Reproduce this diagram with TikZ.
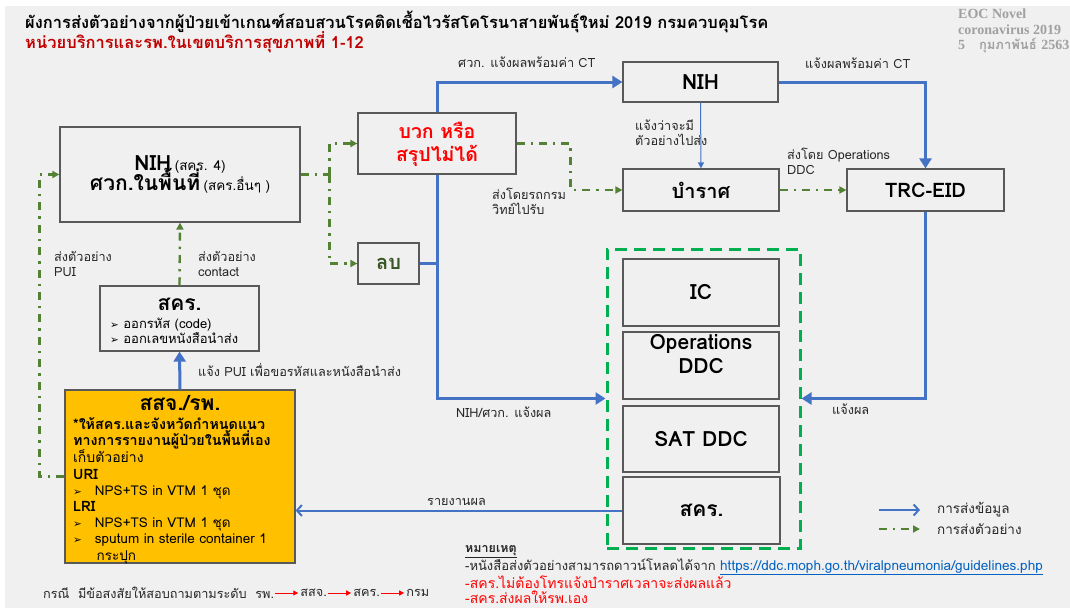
\documentclass[tikz,border=0pt]{standalone}
\usepackage{fontspec}
\setmainfont{Loma}[Script=Thai]
\newfontfamily\dv{DejaVu Sans}
\newfontfamily\lser{Liberation Serif}[BoldFont={Liberation Serif Bold}]
\newfontfamily\loma[Script=Thai]{Loma}
\usetikzlibrary{arrows.meta}
\definecolor{bgc}{HTML}{F0F0F0}
\definecolor{boxc}{HTML}{595959}
\definecolor{bluec}{HTML}{4472C4}
\definecolor{greenc}{HTML}{548235}
\definecolor{grpc}{HTML}{00B050}
\definecolor{yelc}{HTML}{FFC000}
\definecolor{redc}{HTML}{FF0000}
\definecolor{dredc}{HTML}{C00000}
\definecolor{txtc}{HTML}{262626}
\definecolor{grayt}{HTML}{A0A0A0}
\definecolor{linkc}{HTML}{0563C1}
\definecolor{negc}{HTML}{375623}
\newcommand{\fs}[1]{\fontsize{#1}{#1}\selectfont}
\newcommand{\bul}{{\dv\fontsize{10.5}{10.5}\selectfont ➢}}
\begin{document}
\begin{tikzpicture}[x=1pt,y=-1pt,
  box/.style={draw=boxc,line width=1.2pt,inner sep=0pt},
  head/.style={font=\bfseries\fontsize{20}{23}\selectfont,text=black,align=center},
  data/.style={draw=bluec,line width=3pt,-{Triangle[length=10pt,width=12pt]}},
  spec/.style={draw=greenc,line width=2.4pt,dash pattern=on 8pt off 6pt on 2.4pt off 6pt,-{Triangle[length=7pt,width=7pt]}},
  specline/.style={draw=greenc,line width=2.4pt,dash pattern=on 8pt off 6pt on 2.4pt off 6pt},
  lbl/.style={font=\fontsize{12.7}{15.5}\selectfont,text=txtc,align=left,inner sep=0pt},
  redarr/.style={draw=redc,line width=1pt,-{Triangle[length=5pt,width=5pt]}}
]
\useasboundingbox (0,0) rectangle (1070,608);
\fill[white] (0,0) rectangle (1070,608);
\fill[bgc] (5,6) rectangle (1070,608);

% titles
\node[anchor=west,inner sep=0pt,font=\bfseries\fs{16.5}] (t1) at (25,22) {ผังการส่งตัวอย่างจากผู้ป่วยเข้าเกณฑ์สอบสวนโรคติดเชื้อไวรัสโคโรนาสายพันธุ์ใหม่ 2019 กรมควบคุมโรค};
\node[anchor=west,inner sep=0pt,font=\bfseries\fs{16.5},text=dredc] (t2) at (25,42) {หน่วยบริการและรพ.ในเขตบริการสุขภาพที่ 1-12};
\node[anchor=north west,inner sep=0pt,align=left,text=grayt,font=\bfseries\fontsize{14}{15.5}\selectfont] (eoc) at (958,9) {{\lser\bfseries EOC Novel}\\{\lser\bfseries coronavirus 2019}\\{\lser\bfseries 5}\ \ {\loma\bfseries\fs{13} กุมภาพันธ์} {\lser\bfseries 2563}};

% boxes
\node[box,minimum width=240pt,minimum height=95pt] (nihL) at (180,174.5) {};
\node[anchor=base,inner sep=0pt] at (180,170) {{\bfseries\fs{21}NIH}\ {\fs{13.5}(สคร. 4)}};
\node[anchor=base,inner sep=0pt] at (180,190) {{\bfseries\fs{21}ศวก.ในพื้นที่}\ {\fs{13.5}(สคร.อื่นๆ )}};
\node[box,minimum width=158pt,minimum height=61pt] (pos) at (437,143.5) {};
\node[head,text=redc,font=\bfseries\fontsize{19.5}{23}\selectfont] at (437,144) {บวก หรือ\\สรุปไม่ได้};
\node[box,minimum width=61pt,minimum height=41pt,head,text=negc] (neg) at (388.5,263.5) {ลบ};
\node[box,minimum width=155pt,minimum height=40pt,head,font=\bfseries\fs{21}] (nih) at (700.5,82) {NIH};
\node[box,minimum width=156pt,minimum height=42pt,head] (bam) at (701,190) {บำราศ};
\node[box,minimum width=157pt,minimum height=42pt,head] (trc) at (925.5,190) {TRC-EID};
\node[box,minimum width=159pt,minimum height=65pt] (skr) at (179.5,318.5) {};
\node[head,font=\bfseries\fs{21}] at (179.5,304) {สคร.};
\node[anchor=west,align=left,inner sep=0pt,font=\fontsize{13}{15}\selectfont] at (110,331) {\bul\ ออกรหัส (code)\\\bul\ ออกเลขหนังสือนำส่ง};
\node[box,fill=yelc,minimum width=230pt,minimum height=173pt] (ssj) at (180,476.5) {};
\node[head,font=\bfseries\fs{21}] at (180,403) {สสจ./รพ.};
\node[anchor=north west,align=left,inner sep=0pt,font=\fontsize{13.5}{16.2}\selectfont] at (73,417) {{\bfseries\fs{14.3}*ให้สคร.และจังหวัดกำหนดแนว}\\
{\bfseries\fs{14.3}ทางการรายงานผู้ป่วยในพื้นที่เอง}\\
{\fs{14}เก็บตัวอย่าง}\\
{\bfseries\fs{14.3}URI}\\
\bul\hspace{13pt}NPS+TS in VTM 1 ชุด\\
{\bfseries\fs{14.3}LRI}\\
\bul\hspace{13pt}NPS+TS in VTM 1 ชุด\\
\bul\hspace{13pt}sputum in sterile container 1\\
\hspace{23.5pt}กระปุก};

% group
\node[draw=grpc,line width=3pt,dash pattern=on 12pt off 7pt,minimum width=193pt,minimum height=299pt,inner sep=0pt] (grp) at (703.5,398.5) {};
\node[box,minimum width=156pt,minimum height=67pt,head,font=\bfseries\fs{21}] (ic) at (701,292.5) {IC};
\node[box,minimum width=156pt,minimum height=67pt] (ops) at (701,365.5) {};
\node[head,font=\bfseries\fontsize{21}{24}\selectfont] at (701,354) {Operations\\DDC};
\node[box,minimum width=156pt,minimum height=66pt,head,font=\bfseries\fs{21}] (sat) at (701,439) {SAT DDC};
\node[box,minimum width=157pt,minimum height=67pt,head,font=\bfseries\fs{21}] (skr2) at (701.5,510.5) {สคร.};

% blue connectors
\draw[data] (pos.north) |- (nih.west);
\draw[data] (nih.east) -| (trc.north);
\draw[draw=bluec,line width=1pt,-{Triangle[length=6pt,width=6pt]}] (nih.south) -- (bam.north);
\draw[data] (trc.south) |- (grp.east);
\draw[data] (pos.south) |- (grp.west);
\draw[draw=bluec,line width=3pt] (neg.east) -- (neg.east -| pos.south);
\draw[data] (ssj.north) -- (skr.south);
\draw[draw=bluec,line width=2pt,-{Straight Barb[length=5pt,width=11pt]}] (skr2.west) -- (skr2.west -| ssj.east);

% green connectors
\draw[spec] (ssj.west) -- ++(-25,0) |- (nihL.west);
\draw[spec] (skr.north) -- (nihL.south);
\draw[specline] (nihL.east) -- ++(29,0) coordinate (j1);
\draw[spec] (j1) |- (pos.west);
\draw[spec] (j1) |- (neg.west);
\draw[spec] (pos.east) -- ++(54,0) |- (bam.west);
\draw[spec] (bam.east) -- (trc.west);

% labels
\node[lbl,anchor=west] at (458,62) {ศวก. แจ้งผลพร้อมค่า CT};
\node[lbl,anchor=west] at (805,63) {แจ้งผลพร้อมค่า CT};
\node[lbl,anchor=west] at (635,132.5) {แจ้งว่าจะมี\\ตัวอย่างไปส่ง};
\node[lbl,anchor=west] at (787,161.5) {ส่งโดย Operations\\DDC};
\node[lbl,anchor=west] at (492,201.5) {ส่งโดยรถกรม\\วิทย์ไปรับ};
\node[lbl,anchor=west] at (54,264) {ส่งตัวอย่าง\\PUI};
\node[lbl,anchor=west] at (198,264) {ส่งตัวอย่าง\\contact};
\node[lbl,anchor=west] at (198,370) {แจ้ง PUI เพื่อขอรหัสและหนังสือนำส่ง};
\node[lbl,anchor=west] at (456,412) {NIH/ศวก. แจ้งผล};
\node[lbl,anchor=west] at (832,409) {แจ้งผล};
\node[lbl,anchor=west] at (427,502) {รายงานผล};

% legend
\coordinate (la) at (879,510);
\coordinate (lb) at (920,510);
\coordinate (lc) at (879,529);
\coordinate (ld) at (920,529);
\draw[draw=bluec,line width=2pt,-{Straight Barb[length=5pt,width=11pt]}] (la) -- (lb);
\draw[spec,line width=2pt] (lc) -- (ld);
\node[lbl,anchor=west,font=\fs{13.5}] at (937,510) {การส่งข้อมูล};
\node[lbl,anchor=west,font=\fs{13.5}] at (937,529) {การส่งตัวอย่าง};

% bottom line
\node[lbl,anchor=west] (c1) at (43,593) {กรณี\ \ มีข้อสงสัยให้สอบถามตามระดับ\ \ รพ.};
\node[lbl,anchor=west] (c2) at ([xshift=26pt]c1.east) {สสจ.};
\node[lbl,anchor=west] (c3) at ([xshift=26pt]c2.east) {สคร.};
\node[lbl,anchor=west] (c4) at ([xshift=26pt]c3.east) {กรม};
\draw[redarr] ([xshift=1pt]c1.east) -- ([xshift=-2pt]c2.west);
\draw[redarr] ([xshift=1pt]c2.east) -- ([xshift=-2pt]c3.west);
\draw[redarr] ([xshift=1pt]c3.east) -- ([xshift=-2pt]c4.west);

% notes
\node[anchor=west,inner sep=0pt,font=\bfseries\fs{12.5},text=txtc] (n0) at (465,552) {\underline{หมายเหตุ}};
\node[lbl,anchor=west,font=\fontsize{13}{14}\selectfont] (n1) at (465,567) {-หนังสือส่งตัวอย่างสามารถดาวน์โหลดได้จาก {\color{linkc}\fs{13.6}\underline{https://ddc.moph.go.th/viralpneumonia/guidelines.php}}};
\node[lbl,anchor=west,font=\fontsize{14}{15}\selectfont,text=redc] (n2) at (465,582) {-สคร.ไม่ต้องโทรแจ้งบำราศเวลาจะส่งผลแล้ว};
\node[lbl,anchor=west,font=\fontsize{14}{15}\selectfont,text=redc] (n3) at (465,597) {-สคร.ส่งผลให้รพ.เอง};
\end{tikzpicture}
\end{document}
